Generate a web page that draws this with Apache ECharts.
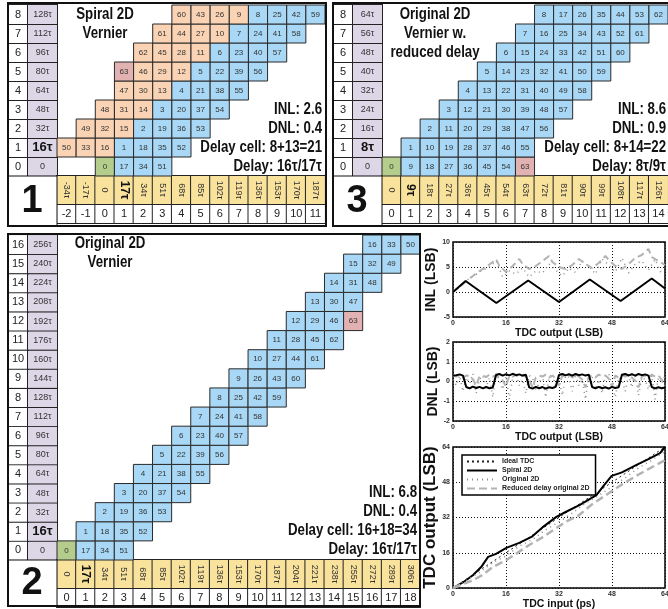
<!DOCTYPE html>
<html>
<head>
<meta charset="utf-8">
<script src="https://cdn.jsdelivr.net/npm/echarts@6/dist/echarts.min.js"></script>
<title>Vernier TDC tables</title>
</head>
<body style="margin:0">
<div id="main" style="width:668px;height:609px"></div>
<script>
const SANS = "'Liberation Sans', Arial, sans-serif";

// ---- panel 1: spiral 2D vernier ----
const spiralCols = ['-2','-1','0','1','2','3','4','5','6','7','8','9','10','11'];
const spiralColTau = ['-34τ','-17τ','0','17τ','34τ','51τ','68τ','85τ','102τ','119τ','136τ','153τ','170τ','187τ'];
const spiralRows = ['0','1','2','3','4','5','6','7','8'];
const spiralRowTau = ['0','16τ','32τ','48τ','64τ','80τ','96τ','112τ','128τ'];
const spiralStart = [0, -2, -1, 0, 1, 1, 2, 3, 4];
const spiralOrange = [0, 3, 3, 3, 3, 4, 4, 4, 4];
const spiralCodes = [
  [0, 17, 34, 51],
  [50, 33, 16, 1, 18, 35, 52],
  [49, 32, 15, 2, 19, 36, 53],
  [48, 31, 14, 3, 20, 37, 54],
  [47, 30, 13, 4, 21, 38, 55],
  [63, 46, 29, 12, 5, 22, 39, 56],
  [62, 45, 28, 11, 6, 23, 40, 57],
  [61, 44, 27, 10, 7, 24, 41, 58],
  [60, 43, 26, 9, 8, 25, 42, 59]
];

// ---- panel 3: original 2D vernier, reduced delay ----
const reducedCols = ['0','1','2','3','4','5','6','7','8','9','10','11','12','13','14'];
const reducedColTau = ['0','9τ','18τ','27τ','36τ','45τ','54τ','63τ','72τ','81τ','90τ','99τ','108τ','117τ','126τ'];
const reducedRows = ['0','1','2','3','4','5','6','7','8'];
const reducedRowTau = ['0','8τ','16τ','24τ','32τ','40τ','48τ','56τ','64τ'];
const reducedStart = [0, 1, 2, 3, 4, 5, 6, 7, 8];
const reducedCodes = [
  [0, 9, 18, 27, 36, 45, 54, 63],
  [1, 10, 19, 28, 37, 46, 55],
  [2, 11, 20, 29, 38, 47, 56],
  [3, 12, 21, 30, 39, 48, 57],
  [4, 13, 22, 31, 40, 49, 58],
  [5, 14, 23, 32, 41, 50, 59],
  [6, 15, 24, 33, 42, 51, 60],
  [7, 16, 25, 34, 43, 52, 61],
  [8, 17, 26, 35, 44, 53, 62]
];

// ---- panel 2: original 2D vernier ----
const originalCols = ['0','1','2','3','4','5','6','7','8','9','10','11','12','13','14','15','16','17','18'];
const originalColTau = ['0','17τ','34τ','51τ','68τ','85τ','102τ','119τ','136τ','153τ','170τ','187τ','204τ','221τ','238τ','255τ','272τ','289τ','306τ'];
const originalRows = ['0','1','2','3','4','5','6','7','8','9','10','11','12','13','14','15','16'];
const originalRowTau = ['0','16τ','32τ','48τ','64τ','80τ','96τ','112τ','128τ','144τ','160τ','176τ','192τ','208τ','224τ','240τ','256τ'];
const originalStart = [0, 1, 2, 3, 4, 5, 6, 7, 8, 9, 10, 11, 12, 13, 14, 15, 16];
const originalCodes = [
  [0, 17, 34, 51], [1, 18, 35, 52], [2, 19, 36, 53], [3, 20, 37, 54],
  [4, 21, 38, 55], [5, 22, 39, 56], [6, 23, 40, 57], [7, 24, 41, 58],
  [8, 25, 42, 59], [9, 26, 43, 60], [10, 27, 44, 61], [11, 28, 45, 62],
  [12, 29, 46, 63], [13, 30, 47], [14, 31, 48], [15, 32, 49], [16, 33, 50]
];

// ---- INL ----
const inlSpiral = [[0,0],[3.8,2.2],[13.1,-2.2],[22.7,2.3],[32,-2],[41.3,2.5],[50.6,-1.8],[60,2.7],[64,0.7]];
const inlReduced = [[0,0],[2,1],[4,2.2],[6,3.2],[8,4.2],[10,5],[12,6],[13,6.6],[14,5.2],[16,4],[18,5.2],[20,6.6],[21,5.6],[23,4.6],[25,5.2],[27,6.2],[29,7.2],[30,6],[32,5],[34,4.6],[36,5.4],[38,6.6],[40,5.6],[42,4.8],[44,5.8],[46,7.2],[47,6.4],[49,5.2],[51,4.6],[53,5.6],[55,6.8],[57,7.4],[59,8.6],[60,7],[62,6.2],[64,5.4]];
const inlOriginal = [[1,0.5],[3,1.5],[5,2.8],[7,3.5],[9,4.4],[11,5],[13,6.2],[15,3],[17,4.2],[19,3.6],[21,4.8],[23,3],[25,4.2],[27,3.8],[29,5.6],[31,4.4],[33,3.2],[35,4.8],[37,3.9],[39,6.2],[41,5.2],[43,3.6],[45,6.6],[47,5.4],[49,4],[51,6.8],[53,3.8],[55,5.6],[57,6.2],[59,4.4],[61,6.5],[63,3.5]];

// ---- DNL (code 0..64) ----
const dnlSpiral = [0.3,0.32,0.36,0.3,-0.28,-0.35,-0.26,-0.33,-0.27,-0.35,-0.28,-0.34,-0.3,0.33,0.38,0.3,0.37,0.31,0.39,0.32,0.36,0.3,0.34,-0.3,-0.36,-0.27,-0.34,-0.28,-0.36,-0.29,-0.33,-0.27,0.33,0.38,0.31,0.37,0.3,0.38,0.32,0.36,0.3,0.35,-0.28,-0.35,-0.27,-0.34,-0.29,-0.36,-0.27,-0.33,-0.29,0.34,0.38,0.31,0.37,0.3,0.38,0.32,0.36,0.3,-0.28,-0.35,-0.29,-0.34,-0.3];
const dnlReduced = [0.3,0.25,0.35,0.2,0.3,0.28,0.1,-0.2,0.25,0.3,0.22,0.35,0.25,0.3,0.2,0.05,-0.25,0.3,0.25,0.35,0.2,0.3,0.25,0.1,-0.3,0.2,0.3,0.25,0.35,0.2,0.3,0.15,-0.2,0.3,0.25,0.35,0.2,0.3,0.25,0.1,-0.3,0.25,0.3,0.2,0.35,0.25,0.3,0.15,-0.25,0.3,0.2,0.35,0.25,0.3,0.2,0.05,-0.3,0.25,0.3,0.2,0.35,0.25,0.3,0.1,-0.2];
const dnlOriginal = [0.1,-0.2,0.3,-0.5,0.2,-0.1,0.4,-0.6,0.1,0.3,-0.3,0.2,-0.8,0.4,0.1,-0.4,0.3,-0.9,0.2,0.4,-0.2,0.1,-0.6,0.3,0.2,-0.4,-0.1,0.3,-0.8,0.2,0.4,-0.3,0.1,-0.7,0.3,0.2,-0.5,0.4,-0.2,0.1,-0.9,0.3,0.2,-0.4,0.1,-0.6,0.3,0.4,-0.2,-0.8,0.2,0.1,-0.5,0.3,-0.3,0.4,-0.7,0.2,0.1,-0.4,0.3,-0.9,0.2,-0.1,0.3];

// ---- transfer curve ----
const tdcIdeal = [[0,0],[64,64]];
const tdcSpiral = [[0,0],[3,2.5],[6,5.8],[8.5,9.5],[10.6,14.1],[13,15.5],[16.1,18.2],[20,20.5],[23.7,23.2],[27,27.5],[31.2,32.3],[34,34.5],[38.3,37.7],[43.3,42.2],[45.5,46.5],[47.9,50.9],[51,52.5],[55.4,55.9],[59,58.5],[62.5,61.2],[64,64]];
const tdcOriginal = [[0,0],[4,3.5],[8,7],[12,11.5],[16,14.5],[20,19],[24,22],[28,26.5],[32,30],[36,34],[40,38.5],[44,42],[48,46],[52,50],[56,54.5],[60,58],[64,62]];
const tdcReduced = [[0,0],[3,1.8],[6,3.5],[9,6],[12,9.5],[16,12.6],[19,15.5],[23,19.5],[27,23],[31,27],[34,30],[38,33],[42,38],[47,43],[51,47],[55,50.6],[59,54],[64,58]];

const FILL = ['#a8d8f5', '#f9d3b4', '#b4cc8c', '#e2b2b2'];

function buildCells(cols, starts, codes, orange) {
  const out = [];
  codes.forEach((row, r) => {
    row.forEach((code, k) => {
      let kind = orange && k < orange[r] ? 1 : 0;
      if (code === 0) kind = 2;
      if (code === 63) kind = 3;
      out.push([cols.indexOf(String(starts[r] + k)), r, code, kind]);
    });
  });
  return out;
}

function renderCell(params, api) {
  const c = api.coord([api.value(0), api.value(1)]);
  const s = api.size([1, 1]);
  return {
    type: 'group',
    children: [{
      type: 'rect',
      shape: {x: c[0] - s[0] / 2, y: c[1] - s[1] / 2, width: s[0], height: s[1]},
      style: {fill: FILL[api.value(3)], stroke: '#2a2a2a', lineWidth: 1}
    }, {
      type: 'text',
      style: {text: String(api.value(2)), x: c[0], y: c[1], align: 'center', verticalAlign: 'middle',
              fontSize: 8, fontFamily: SANS, fill: '#333'}
    }]
  };
}

const rowRich = {
  i: {width: 20, height: 19, align: 'center', backgroundColor: '#fff', borderColor: '#222', borderWidth: 1,
      fontSize: 11, fontFamily: SANS, color: '#222'},
  t: {width: 29, height: 19, align: 'center', backgroundColor: '#dcd6e7', borderColor: '#222', borderWidth: 1,
      fontSize: 9, fontFamily: SANS, color: '#333'},
  tb: {width: 29, height: 19, align: 'center', backgroundColor: '#dcd6e7', borderColor: '#222', borderWidth: 1,
      fontSize: 13, fontWeight: 'bold', fontFamily: SANS, color: '#111'}
};
const colRich = {
  y: {width: 28, height: 19, align: 'center', backgroundColor: '#f9e29c', borderColor: '#222', borderWidth: 1,
      fontSize: 9, fontFamily: SANS, color: '#333'},
  yb: {width: 28, height: 19, align: 'center', backgroundColor: '#f9e29c', borderColor: '#222', borderWidth: 1,
      fontSize: 12, fontWeight: 'bold', fontFamily: SANS, color: '#111'},
  n: {width: 19, height: 18, align: 'center', backgroundColor: '#fff', borderColor: '#222', borderWidth: 1,
      fontSize: 11, fontFamily: SANS, color: '#222'}
};

const xAxes = [], yAxes = [];
function tableAxes(gi, cols, colTau, rows, rowTau) {
  const hidden = {axisLine: {show: false}, axisTick: {show: false}, splitLine: {show: false}};
  xAxes.push(Object.assign({type: 'category', gridIndex: gi, data: cols, position: 'bottom',
    axisLabel: {interval: 0, rotate: -90, margin: 0, rich: colRich,
      formatter: (v, i) => '{' + (v === '1' ? 'yb' : 'y') + '|' + colTau[i] + '}'}}, hidden));
  xAxes.push(Object.assign({type: 'category', gridIndex: gi, data: cols, position: 'bottom', offset: 29,
    axisLabel: {interval: 0, margin: 0, rich: colRich, formatter: v => '{n|' + v + '}'}}, hidden));
  yAxes.push(Object.assign({type: 'category', gridIndex: gi, data: rows,
    axisLabel: {interval: 0, margin: 0, rich: rowRich,
      formatter: (v, i) => '{i|' + v + '}{' + (v === '1' ? 'tb' : 't') + '|' + rowTau[i] + '}'}}, hidden));
}
tableAxes(0, spiralCols, spiralColTau, spiralRows, spiralRowTau);
tableAxes(1, reducedCols, reducedColTau, reducedRows, reducedRowTau);
tableAxes(2, originalCols, originalColTau, originalRows, originalRowTau);

const tickLabel = {fontSize: 7, fontWeight: 'bold', fontFamily: SANS, color: '#333', margin: 3};
const dotted = {show: true, lineStyle: {type: [1, 2], color: '#111', width: 1}};
function plotAxes(gi, ymin, ymax, yint, xname, yname, yfont, ygap, xgap) {
  xAxes.push({type: 'value', gridIndex: gi, min: 0, max: 64, interval: 16,
    axisLine: {show: false}, axisTick: {show: false}, splitLine: dotted, axisLabel: tickLabel,
    name: xname, nameLocation: 'middle', nameGap: xgap,
    nameTextStyle: {fontSize: 10.5, fontWeight: 'bold', fontFamily: SANS, color: '#111'}});
  yAxes.push({type: 'value', gridIndex: gi, min: ymin, max: ymax, interval: yint,
    axisLine: {show: false}, axisTick: {show: false}, splitLine: dotted, axisLabel: tickLabel,
    name: yname, nameLocation: 'middle', nameGap: ygap,
    nameTextStyle: {fontSize: yfont, fontWeight: 'bold', fontFamily: SANS, color: '#111'}});
}
plotAxes(3, -5, 10, 5, 'TDC output (LSB)', 'INL (LSB)', 14, 9, 9);
plotAxes(4, -2, 2, 1, 'TDC output (LSB)', 'DNL (LSB)', 14, 9, 7);
plotAxes(5, 0, 64, 16, 'TDC input (ps)', 'TDC output (LSB)', 17, 12, 8);

const tableGrid = {show: false, containLabel: false, outerBoundsMode: 'none'};
const plotGrid = {show: true, borderColor: '#000', borderWidth: 1.5, containLabel: false, outerBoundsMode: 'none'};

const solid = {color: '#000', width: 2};
const dash = {color: '#b3b3b3', width: 2, type: [7, 4]};
const dots = {color: '#8c8c8c', width: 1.5, type: [1, 4]};
function line(name, gi, data, style) {
  return {type: 'line', name: name, xAxisIndex: 6 + (gi - 3), yAxisIndex: 3 + (gi - 3), data: data,
    showSymbol: false, symbol: 'none', lineStyle: style, itemStyle: {color: style.color}, z: 3};
}
const codes = dnlSpiral.map((v, i) => i);

// narrow-looking labels: Liberation Sans bold squeezed horizontally
function label(x, y, text, align) {
  return {type: 'text', x: x, y: y, scaleX: 0.78, z: 60,
    style: {text: text, align: align, verticalAlign: 'top', lineHeight: 19, fontSize: 17,
            fontWeight: 'bold', fontFamily: SANS, fill: '#111'}};
}
function cornerNumber(x, y, text) {
  return {type: 'text', x: x, y: y, z: 60,
    style: {text: text, align: 'center', verticalAlign: 'middle', fontSize: 38, fontWeight: 'bold', fontFamily: SANS, fill: '#111'}};
}
function box(x, y, w, h, fill, lw) {
  return {type: 'rect', shape: {x: x, y: y, width: w, height: h}, z: fill === 'none' ? 100 : 50,
    style: {fill: fill, stroke: '#111', lineWidth: lw}};
}

const option = {
  animation: false,
  backgroundColor: '#fff',
  grid: [
    Object.assign({left: 57, top: 5, width: 268, height: 171}, tableGrid),
    Object.assign({left: 382, top: 5, width: 286, height: 171}, tableGrid),
    Object.assign({left: 57, top: 235, width: 363, height: 325}, tableGrid),
    Object.assign({left: 453, top: 242, width: 212, height: 75}, plotGrid),
    Object.assign({left: 453, top: 342, width: 212, height: 79}, plotGrid),
    Object.assign({left: 453, top: 447, width: 212, height: 141}, plotGrid)
  ],
  xAxis: xAxes,
  yAxis: yAxes,
  legend: {
    data: ['Ideal TDC', 'Spiral 2D', 'Original 2D', 'Reduced delay original 2D'],
    left: 462, top: 455, orient: 'vertical', itemGap: 2, itemWidth: 30, itemHeight: 8,
    padding: [3, 6, 3, 4], backgroundColor: '#fff', borderColor: '#000', borderWidth: 1.5,
    itemStyle: {opacity: 0},
    selectedMode: false, textStyle: {fontSize: 7, fontWeight: 'bold', fontFamily: SANS, color: '#222'}
  },
  series: [
    {type: 'custom', xAxisIndex: 0, yAxisIndex: 0, renderItem: renderCell,
     data: buildCells(spiralCols, spiralStart, spiralCodes, spiralOrange)},
    {type: 'custom', xAxisIndex: 2, yAxisIndex: 1, renderItem: renderCell,
     data: buildCells(reducedCols, reducedStart, reducedCodes, null)},
    {type: 'custom', xAxisIndex: 4, yAxisIndex: 2, renderItem: renderCell,
     data: buildCells(originalCols, originalStart, originalCodes, null)},
    line('Ideal TDC', 5, tdcIdeal, {color: '#222', width: 1, type: [2, 3]}),
    line('Spiral 2D', 5, tdcSpiral, solid),
    line('Original 2D', 5, tdcOriginal, dots),
    line('Reduced delay original 2D', 5, tdcReduced, {color: '#b3b3b3', width: 2.5, type: [8, 4]}),
    line('inl original', 3, inlOriginal, dots),
    line('inl reduced', 3, inlReduced, dash),
    line('inl spiral', 3, inlSpiral, solid),
    line('dnl original', 4, codes.map(i => [i, dnlOriginal[i]]), dots),
    line('dnl reduced', 4, codes.map(i => [i, dnlReduced[i]]), dash),
    line('dnl spiral', 4, codes.map(i => [i, dnlSpiral[i]]), solid)
  ],
  graphic: [
    box(8, 3, 318, 223, 'none', 2),
    box(333, 3, 340, 223, 'none', 2),
    box(8, 234, 412, 372, 'none', 2),
    box(8, 176, 49, 50, '#fff', 1),
    box(333, 176, 49, 50, '#fff', 1),
    box(8, 560, 49, 46, '#fff', 1),
    cornerNumber(32, 202, '1'),
    cornerNumber(357, 202, '3'),
    cornerNumber(32, 584, '2'),
    label(105, 5, 'Spiral 2D\nVernier', 'center'),
    label(435, 5, 'Original 2D\nVernier w.\nreduced delay', 'center'),
    label(110, 234, 'Original 2D\nVernier', 'center'),
    label(322, 100, 'INL: 2.6\nDNL: 0.4\nDelay cell: 8+13=21\nDelay: 16τ/17τ', 'right'),
    label(666, 100, 'INL: 8.6\nDNL: 0.9\nDelay cell: 8+14=22\nDelay: 8τ/9τ', 'right'),
    label(417, 483, 'INL: 6.8\nDNL: 0.4\nDelay cell: 16+18=34\nDelay: 16τ/17τ', 'right')
  ]
};

const chart = echarts.init(document.getElementById('main'));
chart.setOption(option);
</script>
</body>
</html>
